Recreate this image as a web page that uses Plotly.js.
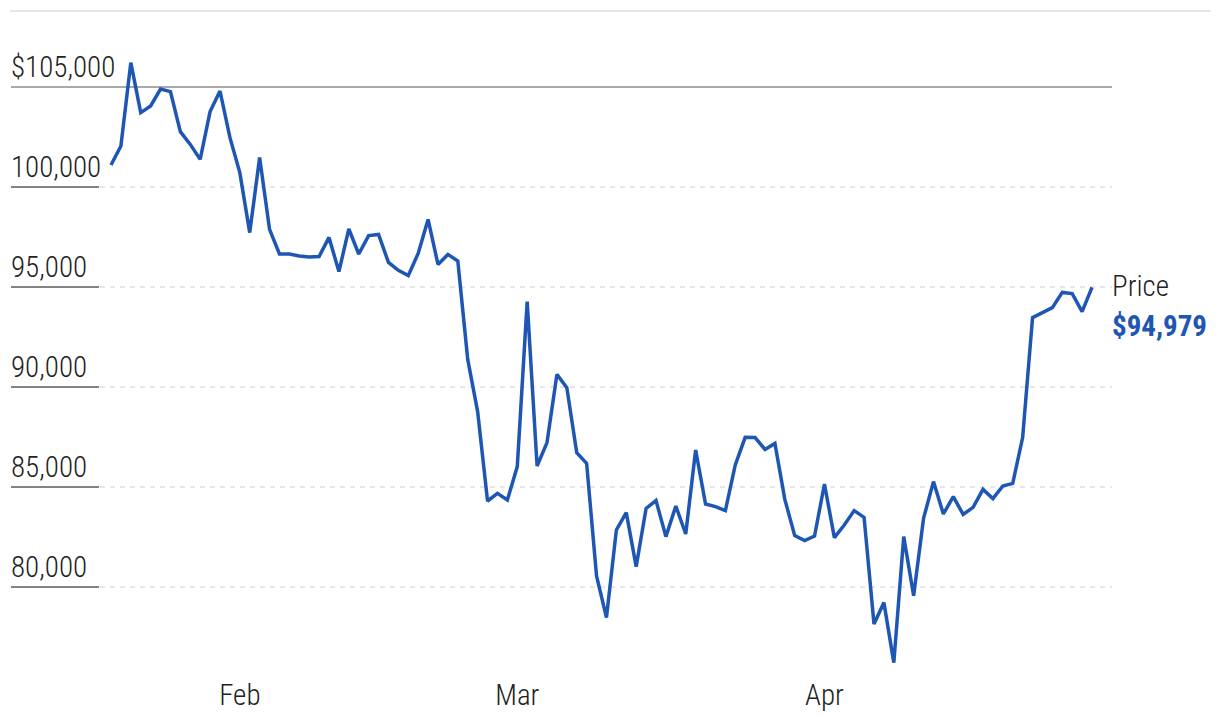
<!DOCTYPE html>
<html>
<head>
<meta charset="utf-8">
<script src="https://cdn.plot.ly/plotly-3.0.1.min.js"></script>
<style>
  html, body { margin: 0; padding: 0; background: #ffffff; }
  #chart { width: 1220px; height: 726px; }
</style>
</head>
<body>
<div id="chart"></div>
<script>
// ---- Data (daily closing price) ----
const startDate = '2025-01-19';
const prices = [
  101100, 102050, 106220, 103720, 104050, 104900, 104770, 102770, 102130, 101380,
  103770, 104800, 102480, 100720, 97720, 101470, 97880, 96650, 96650, 96550,
  96500, 96520, 97480, 95770, 97900, 96650, 97570, 97630, 96230, 95830,
  95570, 96680, 98380, 96130, 96630, 96300, 91380, 88770, 84300, 84680,
  84350, 86020, 94270, 86050, 87220, 90630, 89970, 86720, 86180, 80550,
  78470, 82850, 83720, 81020, 83930, 84320, 82520, 84050, 82650, 86850,
  84150, 84020, 83820, 86100, 87480, 87470, 86880, 87180, 84380, 82570,
  82320, 82550, 85150, 82470, 83100, 83820, 83480, 78150, 79220, 76220,
  82520, 79560, 83430, 85270, 83650, 84520, 83630, 83980, 84880, 84420,
  85050, 85180, 87470, 93470, 93720, 93970, 94730, 94670, 93770, 94979
];
const xTickVals = ['2025-02-01', '2025-03-01', '2025-04-01'];
const xTickText = ['Feb', 'Mar', 'Apr'];
const yTickVals = [80000, 85000, 90000, 95000, 100000, 105000];
const yTickText = ['80,000', '85,000', '90,000', '95,000', '100,000', '$105,000'];
const seriesName = 'Price';

// ---- Build dates ----
function addDays(iso, n) {
  const d = new Date(iso + 'T00:00:00Z');
  d.setUTCDate(d.getUTCDate() + n);
  return d.toISOString().slice(0, 10);
}
const dates = prices.map((_, i) => addDays(startDate, i));

const FONT = "'Roboto Condensed', 'Roboto', sans-serif";
const BLUE = '#1e56b3';
const FS = 29;

const trace = {
  x: dates,
  y: prices,
  type: 'scatter',
  mode: 'lines',
  line: { color: BLUE, width: 3.5, shape: 'linear' },
  hoverinfo: 'skip',
  showlegend: false
};

// grid shapes
const shapes = [];
shapes.push({ type: 'line', xref: 'paper', yref: 'paper', x0: -0.0009, x1: 1.0899, y0: 1, y1: 1,
  line: { color: '#e6e6e6', width: 2 }, layer: 'below' });
yTickVals.forEach((v, i) => {
  const isTop = i === yTickVals.length - 1;
  if (isTop) {
    shapes.push({ type: 'line', xref: 'paper', yref: 'y', x0: 0, x1: 1, y0: v, y1: v,
      line: { color: '#555555', width: 1.2 }, layer: 'below' });
  } else {
    shapes.push({ type: 'line', xref: 'paper', yref: 'y', x0: 89 / 1101, x1: 1, y0: v, y1: v,
      line: { color: '#dedede', width: 1.3, dash: '5px,5px' }, layer: 'below' });
    shapes.push({ type: 'line', xref: 'paper', yref: 'y', x0: 0, x1: 88 / 1101, y0: v, y1: v,
      line: { color: '#5a5a5a', width: 1.5 }, layer: 'below' });
  }
});

const last = prices[prices.length - 1];
const annotations = [
  { xref: 'paper', yref: 'y', x: 0.9985, y: last, xanchor: 'left', yanchor: 'bottom', yshift: -18,
    text: seriesName, showarrow: false, font: { family: FONT, size: FS, color: '#222222', weight: 300 } },
  { xref: 'paper', yref: 'y', x: 0.9985, y: last, xanchor: 'left', yanchor: 'top', yshift: -20,
    text: '<b>$' + last.toLocaleString('en-US') + '</b>', showarrow: false,
    font: { family: FONT, size: FS, color: BLUE } }
];

const layout = {
  width: 1220,
  height: 726,
  margin: { l: 11, r: 108, t: 11, b: 56, pad: 0 },
  paper_bgcolor: '#ffffff',
  plot_bgcolor: 'rgba(0,0,0,0)',
  font: { family: FONT, size: FS, color: '#222222', weight: 300 },
  xaxis: {
    type: 'date',
    range: ['2025-01-08 21:48', '2025-04-30 00:26'],
    tickvals: xTickVals,
    ticktext: xTickText,
    showgrid: false,
    zeroline: false,
    showline: false,
    ticks: '',
    ticklabelstandoff: 5,
    tickfont: { family: FONT, size: FS, color: '#222222', weight: 300 },
    fixedrange: true
  },
  yaxis: {
    range: [75850, 108800],
    tickvals: yTickVals,
    ticktext: yTickText,
    ticklabelposition: 'inside top',
    ticklabelstandoff: -3,
    showgrid: false,
    zeroline: false,
    showline: false,
    ticks: '',
    tickfont: { family: FONT, size: FS, color: '#222222', weight: 300 },
    fixedrange: true
  },
  shapes: shapes,
  annotations: annotations,
  showlegend: false
};

Plotly.newPlot('chart', [trace], layout, { displayModeBar: false, staticPlot: true });
</script>
</body>
</html>
